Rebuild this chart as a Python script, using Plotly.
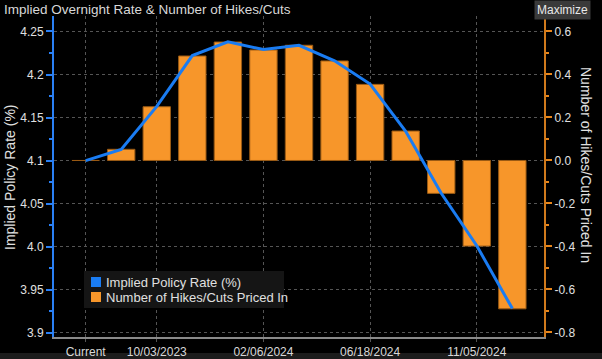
import plotly.graph_objects as go

categories = ["Current", "09/05/2023", "10/03/2023", "11/07/2023", "12/05/2023",
              "02/06/2024", "03/19/2024", "05/07/2024", "06/18/2024", "08/06/2024",
              "09/24/2024", "11/05/2024", "12/10/2024"]
hikes_cuts = [0.0, 0.052, 0.25, 0.486, 0.551, 0.514, 0.536, 0.463, 0.354, 0.137,
              -0.153, -0.398, -0.69]
policy_rate = [4.100, 4.113, 4.163, 4.222, 4.238, 4.229, 4.234, 4.216, 4.189, 4.134,
               4.062, 4.001, 3.928]
tick_labels = ["Current", "10/03/2023", "02/06/2024", "06/18/2024", "11/05/2024"]
legend_names = ["Implied Policy Rate (%)", "Number of Hikes/Cuts Priced In"]

W, H = 602, 359
ML, MR, MT, MB = 54, 58, 16, 22

FONT = "Liberation Sans"
ORANGE = "#f7962a"
BLUE = "#1a7cf2"

plot_h = H - MT - MB
plot_w = W - ML - MR


def px(x):
    return (x - ML) / plot_w


def py(y):
    return (H - MB - y) / plot_h


fig = go.Figure()
fig.add_trace(go.Bar(
    x=categories, y=hikes_cuts, yaxis="y", width=0.77,
    marker=dict(color=ORANGE, line=dict(color="#9a5a14", width=1)),
    showlegend=False, hoverinfo="skip"))
fig.add_trace(go.Scatter(
    x=categories, y=policy_rate, yaxis="y2", mode="lines",
    line=dict(color=BLUE, width=3), showlegend=False, hoverinfo="skip"))

fig.update_layout(
    width=W, height=H,
    margin=dict(l=ML, r=MR, t=MT, b=MB, pad=0),
    paper_bgcolor="black", plot_bgcolor="black",
    font=dict(family=FONT, color="#d8d8d8", size=12),
    barmode="overlay",
    showlegend=False,
    xaxis=dict(
        type="category", range=[-0.89, 12.89], automargin=False,
        tickmode="array", tickvals=tick_labels, ticktext=tick_labels,
        showgrid=True, gridcolor="#555555", griddash="dot", gridwidth=1,
        showline=True, linecolor="#8a8a8a", linewidth=2,
        ticks="outside", ticklen=3, tickcolor="#555555",
        tickfont=dict(size=12, color="#d8d8d8", family=FONT),
        zeroline=False, fixedrange=True),
    yaxis=dict(
        side="right", range=[-0.821, 0.672], automargin=False,
        tickmode="array", tickvals=[-0.8, -0.6, -0.4, -0.2, 0.0, 0.2, 0.4, 0.6],
        ticktext=["-0.8", "-0.6", "-0.4", "-0.2", "0.0", "0.2", "0.4", "0.6"],
        showgrid=True, gridcolor="#555555", griddash="dot", gridwidth=1,
        showline=True, linecolor="#d07a1c", linewidth=2,
        ticks="outside", ticklen=6, tickcolor="#e8861c", tickwidth=2,
        minor=dict(ticks="outside", ticklen=3, tickcolor="#e8861c", dtick=0.1, tick0=0),
        tickfont=dict(size=12, color="#e0e0e0", family=FONT),
        zeroline=False, fixedrange=True),
    yaxis2=dict(
        overlaying="y", side="left", range=[3.895, 4.268], automargin=False,
        tickmode="array", tickvals=[3.9, 3.95, 4.0, 4.05, 4.1, 4.15, 4.2, 4.25],
        ticktext=["3.9", "3.95", "4.0", "4.05", "4.1", "4.15", "4.2", "4.25"],
        showgrid=False, showline=True, linecolor="#2a80f5", linewidth=2,
        ticks="outside", ticklen=6, tickcolor="#2a80f5", tickwidth=2,
        minor=dict(ticks="outside", ticklen=3, tickcolor="#2a80f5", dtick=0.025, tick0=3.9),
        tickfont=dict(size=12, color="#e0e0e0", family=FONT),
        zeroline=False, fixedrange=True),
)

fig.add_annotation(text="Implied Overnight Rate & Number of Hikes/Cuts",
                   xref="paper", yref="paper", x=px(2), y=py(0),
                   xanchor="left", yanchor="top",
                   showarrow=False, font=dict(size=13.5, color="#d8d8d8", family=FONT))
fig.add_annotation(text="Maximize", xref="paper", yref="paper",
                   x=px(562), y=py(0),
                   xanchor="center", yanchor="top", showarrow=False,
                   bgcolor="#3a3a3a", borderpad=2,
                   font=dict(size=12, color="#e8e8e8", family=FONT))
fig.add_annotation(text="Implied Policy Rate (%)", xref="paper", yref="paper",
                   x=px(10), y=py(177),
                   xanchor="center", yanchor="middle", textangle=-90, showarrow=False,
                   font=dict(size=14, color="#e0e0e0", family=FONT))
fig.add_annotation(text="Number of Hikes/Cuts Priced In", xref="paper", yref="paper",
                   x=px(586), y=py(165),
                   xanchor="center", yanchor="middle", textangle=90, showarrow=False,
                   font=dict(size=14, color="#e0e0e0", family=FONT))

# manual legend
fig.add_shape(type="rect", xref="paper", yref="paper", layer="above",
              x0=px(84), x1=px(284), y0=py(308), y1=py(271),
              fillcolor="#151515", line=dict(width=0))
for i, (name, col) in enumerate(zip(legend_names, [BLUE, ORANGE])):
    cy = 282 + i * 15
    fig.add_shape(type="rect", xref="paper", yref="paper", layer="above",
                  x0=px(91), x1=px(101), y0=py(cy + 5), y1=py(cy - 5),
                  fillcolor=col, line=dict(width=0))
    fig.add_annotation(text=name, xref="paper", yref="paper",
                       x=px(104), y=py(cy), xanchor="left", yanchor="middle",
                       showarrow=False,
                       font=dict(size=13, color="#e0e0e0", family=FONT))

# bottom grey strip
fig.add_shape(type="rect", xref="paper", yref="paper", layer="below",
              x0=px(0), x1=px(W), y0=py(H), y1=py(353),
              fillcolor="#1c1c1c", line=dict(width=0))

fig.write_html("out.html",
               config={"displayModeBar": False, "staticPlot": True},
               post_script="document.body.style.margin='0';"
                           "document.body.style.overflow='hidden';"
                           "document.body.style.background='black';")
